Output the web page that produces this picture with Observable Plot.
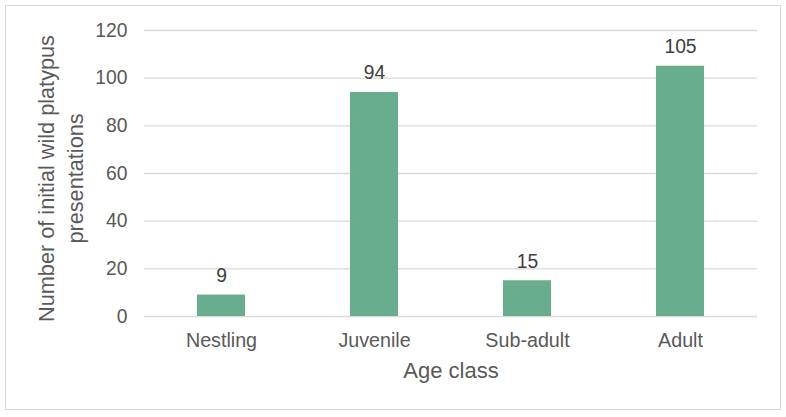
<!DOCTYPE html>
<html>
<head>
<meta charset="utf-8">
<script src="https://cdn.jsdelivr.net/npm/d3@7"></script>
<script src="https://cdn.jsdelivr.net/npm/@observablehq/plot@0.6"></script>
<style>
  html, body { margin: 0; padding: 0; background: #fff; }
  #wrap { position: relative; width: 786px; height: 417px; }
  #wrap svg { position: absolute; left: 0; top: 0; }
  #border {
    position: absolute; left: 5px; top: 5px; width: 774px; height: 403px;
    border: 1.5px solid #d9d9d9; pointer-events: none;
  }
</style>
</head>
<body>
<div id="wrap"><div id="border"></div></div>
<script>
// Initial wild platypus presentations by age class
const ageClasses = ["Nestling", "Juvenile", "Sub-adult", "Adult"];
const presentations = [9, 94, 15, 105];
const yTicks = [0, 20, 40, 60, 80, 100, 120];
const yTitle = "Number of initial wild platypus\npresentations";
const xTitle = "Age class";

const rows = ageClasses.map((age, i) => ({age, count: presentations[i]}));

const font = "'Liberation Sans', Arial, Helvetica, sans-serif";
const barColor = "#69ad8f";

const chart = Plot.plot({
  width: 786,
  height: 417,
  marginLeft: 144,
  marginRight: 29,
  marginTop: 30,
  marginBottom: 101,
  style: {fontFamily: font, background: "transparent", overflow: "visible"},
  x: {domain: ageClasses, paddingInner: 0.687, paddingOuter: 0.3435, label: null},
  y: {domain: [0, 120], ticks: yTicks, label: null},
  marks: [
    Plot.gridY(yTicks, {stroke: "#d9d9d9", strokeOpacity: 1, strokeWidth: 1.3}),
    Plot.barY(rows, {x: "age", y: "count", fill: barColor}),
    Plot.text(rows, {
      x: "age", y: "count", text: d => String(d.count),
      lineAnchor: "bottom", dy: -13, fontSize: 19.3, fill: "#404040"
    }),
    Plot.axisY(yTicks, {
      tickSize: 0, tickPadding: 17, fontSize: 19.3, color: "#595959", label: null
    }),
    Plot.axisX({
      tickSize: 0, tickPadding: 16, fontSize: 19.7, color: "#595959", label: null
    }),
    Plot.text([xTitle], {
      frameAnchor: "bottom", lineAnchor: "middle", dy: 54,
      fontSize: 22, fill: "#595959"
    }),
    Plot.text([yTitle], {
      frameAnchor: "left", rotate: -90, lineAnchor: "middle", textAnchor: "middle",
      dx: -85, dy: 5, lineHeight: 1.3, fontSize: 21.7, fill: "#595959"
    })
  ]
});

document.getElementById("wrap").prepend(chart);
</script>
</body>
</html>
